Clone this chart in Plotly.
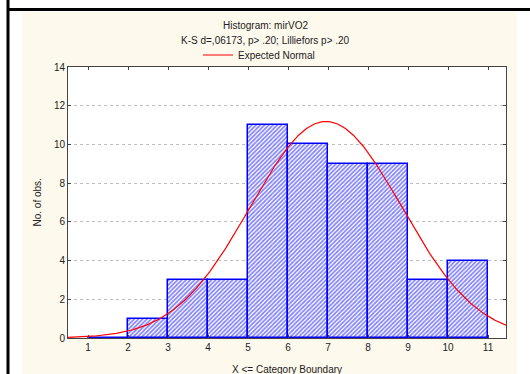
import numpy as np
import plotly.graph_objects as go

# ---- data ----
bin_left = [1, 2, 3, 4, 5, 6, 7, 8, 9, 10]
bin_right = [2, 3, 4, 5, 6, 7, 8, 9, 10, 11]
counts = [0, 1, 3, 3, 11, 10, 9, 9, 3, 4]
x_ticks = [1, 2, 3, 4, 5, 6, 7, 8, 9, 10, 11]
y_ticks = [0, 2, 4, 6, 8, 10, 12, 14]
# expected normal parameters (mean, sd, n)
norm_mean = 6.95
norm_sd = 1.89
n_obs = 53

centers = [(a + b) / 2 for a, b in zip(bin_left, bin_right)]
widths = [b - a for a, b in zip(bin_left, bin_right)]

xs = np.linspace(0.5, 11.45, 400)
ys = n_obs * 1.0 / (norm_sd * np.sqrt(2 * np.pi)) * np.exp(-0.5 * ((xs - norm_mean) / norm_sd) ** 2)

FONT = "Liberation Sans, Arial, sans-serif"

fig = go.Figure()
fig.add_trace(go.Bar(
    x=centers, y=counts, width=widths, showlegend=False,
    marker=dict(color="white",
                line=dict(color="#0000ff", width=1.5),
                pattern=dict(shape="/", fgcolor="#0000ff", bgcolor="white",
                             size=3, solidity=0.55)),
))
fig.add_trace(go.Scatter(
    x=xs, y=ys, mode="lines", name="Expected Normal",
    line=dict(color="#ff0000", width=1.2),
))

L, R, T, B = 68, 24, 67, 36
W, H = 530, 374
pw, ph = W - L - R, H - T - B

def px(xp):
    return (xp - L) / pw

def py(yp):
    return (H - B - yp) / ph

shapes = [
    dict(type="rect", xref="paper", yref="paper", x0=px(22), x1=px(517), y0=py(380), y1=py(12),
         fillcolor="#fdf9ed", line=dict(width=0), layer="below"),
    dict(type="rect", xref="paper", yref="paper", x0=0, x1=1, y0=0, y1=1,
         fillcolor="white", line=dict(width=0), layer="below"),
    dict(type="line", xref="paper", yref="paper", x0=px(8), x1=px(8), y0=py(0), y1=py(380),
         line=dict(color="black", width=3)),
    dict(type="line", xref="paper", yref="paper", x0=px(7), x1=px(531), y0=py(9.5), y1=py(9.5),
         line=dict(color="black", width=3)),
]

annotations = [
    dict(text="Histogram: mirVO2", xref="paper", yref="paper", x=px(265), y=py(25),
         xanchor="center", yanchor="middle", showarrow=False, font=dict(size=10, color="#222", family=FONT)),
    dict(text="K-S d=,06173, p> .20; Lilliefors p> .20", xref="paper", yref="paper", x=px(265), y=py(40),
         xanchor="center", yanchor="middle", showarrow=False, font=dict(size=10, color="#222", family=FONT)),
    dict(text="No. of obs.", xref="paper", yref="paper", x=px(37), y=0.5, textangle=-90,
         xanchor="center", yanchor="middle", showarrow=False, font=dict(size=10, color="#222", family=FONT)),
    dict(text="X <= Category Boundary", xref="paper", yref="paper", x=0.5, y=py(369),
         xanchor="center", yanchor="middle", showarrow=False, font=dict(size=10, color="#222", family=FONT)),
]

fig.update_layout(
    width=W, height=H,
    margin=dict(l=L, r=R, t=T, b=B),
    paper_bgcolor="white", plot_bgcolor="rgba(0,0,0,0)",
    font=dict(family=FONT, size=10, color="#222"),
    shapes=shapes, annotations=annotations,
    bargap=0,
    showlegend=True,
    legend=dict(x=px(198), y=py(55), xanchor="left", yanchor="middle", orientation="h",
                bgcolor="rgba(0,0,0,0)", font=dict(size=10, family=FONT, color="#222"),
                itemwidth=30),
)
fig.update_xaxes(range=[0.5, 11.45], tickvals=x_ticks, showgrid=False, zeroline=False,
                 showline=True, linecolor="#444", linewidth=1, mirror="ticks",
                 ticks="inside", ticklen=3, tickcolor="#444",
                 tickfont=dict(size=10, color="#222"))
fig.update_yaxes(range=[0, 14], tickvals=y_ticks, showgrid=True, gridcolor="#bdbdbd",
                 griddash="3px,3px", gridwidth=1, zeroline=False,
                 showline=True, linecolor="#444", linewidth=1, mirror="ticks",
                 ticks="inside", ticklen=3, tickcolor="#444",
                 tickfont=dict(size=10, color="#222"))

fig.write_html("out.html", config={"displayModeBar": False},
               post_script="document.body.style.margin='0';document.body.style.overflow='hidden';")
